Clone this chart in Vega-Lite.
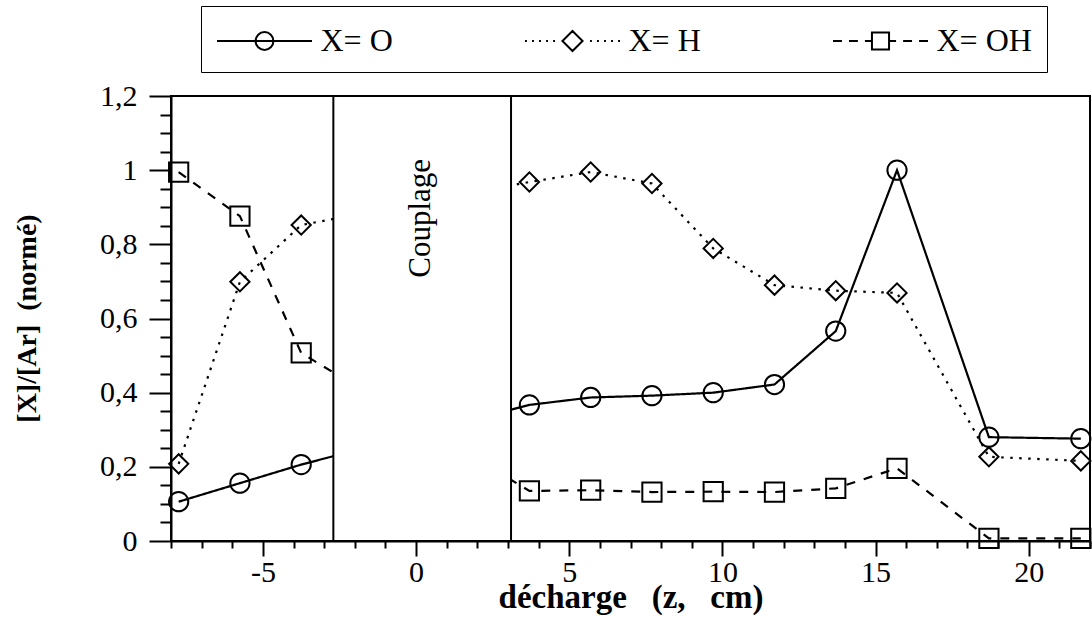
{
  "$schema": "https://vega.github.io/schema/vega-lite/v6.json",
  "width": 919,
  "height": 445,
  "autosize": {"type": "none"},
  "padding": {"left": 171, "top": 96, "right": 2, "bottom": 80},
  "background": "white",
  "config": {
    "view": {"stroke": "black", "strokeWidth": 2},
    "font": "Liberation Serif",
    "axis": {"grid": false, "domainColor": "black", "tickColor": "black", "labelColor": "black", "titleColor": "black", "labelFont": "Liberation Serif", "titleFont": "Liberation Serif"}
  },
  "datasets": {
    "series": [
      {"z": -7.75, "v": 0.106, "s": "X= O"},
      {"z": -5.75, "v": 0.156, "s": "X= O"},
      {"z": -3.75, "v": 0.206, "s": "X= O"},
      {"z": 3.7, "v": 0.367, "s": "X= O"},
      {"z": 5.7, "v": 0.387, "s": "X= O"},
      {"z": 7.7, "v": 0.392, "s": "X= O"},
      {"z": 9.7, "v": 0.4, "s": "X= O"},
      {"z": 11.7, "v": 0.422, "s": "X= O"},
      {"z": 13.7, "v": 0.566, "s": "X= O"},
      {"z": 15.7, "v": 1.0, "s": "X= O"},
      {"z": 18.7, "v": 0.28, "s": "X= O"},
      {"z": 21.7, "v": 0.276, "s": "X= O"},
      {"z": -7.75, "v": 0.208, "s": "X= H"},
      {"z": -5.75, "v": 0.699, "s": "X= H"},
      {"z": -3.75, "v": 0.852, "s": "X= H"},
      {"z": 3.7, "v": 0.968, "s": "X= H"},
      {"z": 5.7, "v": 0.995, "s": "X= H"},
      {"z": 7.7, "v": 0.964, "s": "X= H"},
      {"z": 9.7, "v": 0.789, "s": "X= H"},
      {"z": 11.7, "v": 0.69, "s": "X= H"},
      {"z": 13.7, "v": 0.675, "s": "X= H"},
      {"z": 15.7, "v": 0.669, "s": "X= H"},
      {"z": 18.7, "v": 0.227, "s": "X= H"},
      {"z": 21.7, "v": 0.216, "s": "X= H"},
      {"z": -7.75, "v": 0.995, "s": "X= OH"},
      {"z": -5.75, "v": 0.876, "s": "X= OH"},
      {"z": -3.75, "v": 0.507, "s": "X= OH"},
      {"z": 3.7, "v": 0.135, "s": "X= OH"},
      {"z": 5.7, "v": 0.137, "s": "X= OH"},
      {"z": 7.7, "v": 0.132, "s": "X= OH"},
      {"z": 9.7, "v": 0.133, "s": "X= OH"},
      {"z": 11.7, "v": 0.132, "s": "X= OH"},
      {"z": 13.7, "v": 0.142, "s": "X= OH"},
      {"z": 15.7, "v": 0.196, "s": "X= OH"},
      {"z": 18.7, "v": 0.007, "s": "X= OH"},
      {"z": 21.7, "v": 0.007, "s": "X= OH"}
    ],
    "band": [{"z": -2.7, "z2": 3.1, "v": 0, "v2": 1.2}],
    "label": [{"z": 0.15, "v": 0.87, "t": "Couplage"}]
  },
  "encoding": {
    "x": {"field": "z", "type": "quantitative", "scale": {"domain": [-8, 22], "nice": false, "zero": false},
      "axis": {"orient": "bottom",
        "values": [-8,-7,-6,-5,-4,-3,-2,-1,0,1,2,3,4,5,6,7,8,9,10,11,12,13,14,15,16,17,18,19,20,21,22],
        "tickSize": {"condition": {"test": "datum.value % 5 === 0", "value": 15}, "value": 7},
        "tickWidth": 2, "domainWidth": 2, "labelOverlap": false, "labelFlush": false, "labelBound": false,
        "labelExpr": "datum.value % 5 === 0 ? replace(format(datum.value, 'd'), '\u2212', '-') : ''",
        "labelFontSize": 30, "labelPadding": 1,
        "title": "décharge\u00a0\u00a0 (z,\u00a0\u00a0 cm)", "titleFontSize": 33, "titleFontWeight": "bold", "titleY": 66, "titleBaseline": "alphabetic"}},
    "y": {"field": "v", "type": "quantitative", "scale": {"domain": [0, 1.2], "nice": false, "zero": false},
      "axis": {"orient": "left",
        "values": [0,0.05,0.1,0.15,0.2,0.25,0.3,0.35,0.4,0.45,0.5,0.55,0.6,0.65,0.7,0.75,0.8,0.85,0.9,0.95,1,1.05,1.1,1.15,1.2],
        "tickSize": {"condition": {"test": "abs(datum.value*5 - round(datum.value*5)) < 0.001", "value": 22}, "value": 11},
        "tickWidth": 2, "domainWidth": 2, "labelOverlap": false, "labelFlush": false, "labelBound": false,
        "labelExpr": "abs(datum.value*5 - round(datum.value*5)) < 0.001 ? replace(format(datum.value, '~g'), '.', ',') : ''",
        "labelFontSize": 30, "labelPadding": 12,
        "title": "[X]/[Ar]\u00a0 (normé)", "titleFontSize": 28, "titleFontWeight": "bold", "titleX": -130, "titleY": 222, "titleBaseline": "bottom", "titleAngle": 270}}
  },
  "layer": [
    {
      "data": {"name": "series"},
      "mark": {"type": "line", "color": "black", "strokeWidth": 2.2},
      "encoding": {
        "strokeDash": {"field": "s", "type": "nominal", "scale": {"domain": ["X= O", "X= H", "X= OH"], "range": [[1, 0], [2.5, 6.5], [9, 9]]}, "legend": null},
        "detail": {"field": "s"}
      }
    },
    {
      "data": {"name": "series"},
      "mark": {"type": "point", "filled": false, "color": "black", "strokeWidth": 2, "size": 370, "opacity": 1},
      "encoding": {
        "shape": {"field": "s", "type": "nominal", "scale": {"domain": ["X= O", "X= H", "X= OH"], "range": ["circle", "diamond", "square"]}, "legend": null}
      }
    },
    {
      "data": {"name": "band"},
      "mark": {"type": "rect", "fill": "white", "stroke": "black", "strokeWidth": 2},
      "encoding": {
        "x2": {"field": "z2"},
        "y2": {"field": "v2"}
      }
    },
    {
      "data": {"name": "label"},
      "mark": {"type": "text", "angle": 270, "fontSize": 31, "font": "Liberation Serif", "color": "black", "align": "center", "baseline": "middle"},
      "encoding": {
        "text": {"field": "t"}
      }
    },
    {
      "data": {"name": "series"},
      "transform": [{"filter": {"field": "z", "gt": 1000}}],
      "mark": {"type": "point", "filled": false, "color": "black", "strokeWidth": 2, "opacity": 1},
      "encoding": {
        "shape": {"field": "s", "type": "nominal",
          "scale": {"domain": ["X= O", "X= H", "X= OH"], "range": [
            "M-2.5,0H2.5M0.47,0A0.47,0.47 0 1,1 -0.47,0A0.47,0.47 0 1,1 0.47,0",
            "M-2.5,0h0.1M-2.13,0h0.1M-1.76,0h0.1M-1.39,0h0.1M-1.02,0h0.1M0.92,0h0.1M1.29,0h0.1M1.66,0h0.1M2.03,0h0.1M2.4,0h0.1M0,-0.53L0.53,0L0,0.53L-0.53,0Z",
            "M-2.5,0h0.47M-1.66,0h0.47M-0.82,0h0.37M0.45,0h0.37M1.19,0h0.47M2.03,0h0.47M-0.45,-0.45H0.45V0.45H-0.45Z"
          ]},
          "legend": {"orient": "none", "legendX": 30, "legendY": -90, "direction": "horizontal", "title": null,
            "strokeColor": "black", "fillColor": "white", "padding": 15, "gridAlign": "all",
            "symbolSize": 1444, "symbolOffset": 28.5, "symbolStrokeWidth": 2, "symbolStrokeColor": "black", "symbolFillColor": "transparent", "symbolOpacity": 1,
            "labelFontSize": 32, "labelFont": "Liberation Serif", "labelColor": "black", "labelOffset": 36, "columnPadding": 105,
            "encode": {
              "legend": {"update": {"strokeWidth": {"value": 3}}}
            }}}
      }
    }
  ],
  "resolve": {
    "scale": {"shape": "independent"},
    "legend": {"shape": "independent"}
  }
}
